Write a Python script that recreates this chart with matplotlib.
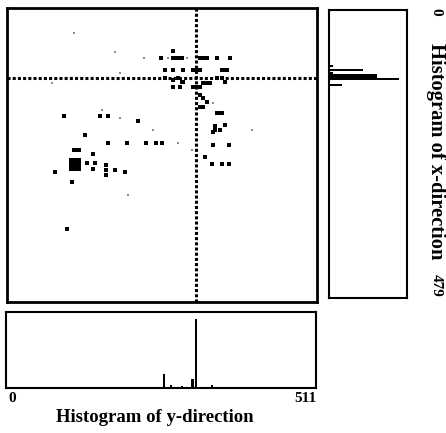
import matplotlib.pyplot as plt

# scatter points (x: 0..511, y: 0..479, y grows downward)
pts_x = [274,
         254, 274, 279, 283, 288, 318, 323, 330, 346, 367,
         260, 274, 290, 307, 313, 318, 354, 359, 363,
         260, 274, 282, 288, 290, 274, 285, 307, 313, 318, 323, 330, 335, 346, 354, 359,
         318, 323, 330, 323, 318,
         346, 351, 354,
         343, 359, 339, 351, 343,
         339, 366, 326, 338, 354, 366,
         94, 153, 166, 216, 129,
         166, 198, 229, 246, 255,
         110, 114, 118,
         105, 110, 114, 118, 105, 110, 114, 118, 105, 110, 114, 118, 105, 110, 114, 118,
         142, 132, 145, 142, 163, 163, 163, 178, 194, 79, 107, 99]
pts_y = [70,
         81, 81, 81, 81, 81, 81, 81, 81, 81, 81,
         101, 101, 101, 101, 101, 101, 101, 101, 101,
         114, 117, 114, 121, 121, 129, 129, 129, 129, 129, 122, 122, 122, 114, 114, 121,
         142, 147, 153, 161, 161,
         171, 171, 171,
         192, 191, 202, 199, 199,
         223, 223, 243, 254, 254, 254,
         176, 176, 176, 184, 207,
         220, 220, 220, 220, 220,
         231, 231, 231,
         247, 247, 247, 247, 252, 252, 252, 252, 257, 257, 257, 257, 262, 262, 262, 262,
         238, 252, 252, 262, 256, 264, 272, 264, 267, 267, 283, 360]

# faint specks
faint_x = [110, 226, 265, 296, 186, 186, 404, 199, 178, 74, 241, 157, 305, 282, 339]
faint_y = [41, 81, 81, 81, 106, 179, 199, 305, 72, 122, 199, 166, 231, 220, 155]

# crosshair location
cross_x = 311
cross_y = 114

# histogram of y-direction (bottom)
hy_pos = [260, 272, 290, 307, 309, 313, 340]
hy_val = [0.18, 0.04, 0.02, 0.12, 0.12, 0.91, 0.04]

# histogram of x-direction (right)
hx_pos = [93, 100, 105, 108, 110, 112, 115, 125]
hx_val = [0.05, 0.44, 0.05, 0.62, 0.62, 0.62, 0.9, 0.17]

serif = ['Liberation Serif', 'DejaVu Serif']

fig = plt.figure(figsize=(4.46, 4.33), dpi=100)

ax = fig.add_axes((7/446, 1-302/433, 310/446, 294/433))
ax.scatter(pts_x, pts_y, s=10, marker='s', color='black', linewidths=0)
ax.scatter(faint_x, faint_y, s=3, marker='s', color='0.55', linewidths=0)
ax.axvline(cross_x, color='black', lw=2.2, ls=(0, (1, 0.7)))
ax.axhline(cross_y, color='black', lw=2.2, ls=(0, (1, 0.7)))
ax.set_xlim(0, 511)
ax.set_ylim(479, 0)
ax.set_xticks([])
ax.set_yticks([])
for s in ax.spines.values():
    s.set_linewidth(2)

axr = fig.add_axes((329/446, 1-298/433, 78/446, 288/433))
axr.barh(hx_pos, hx_val, height=2.5, color='black')
axr.set_xlim(0, 1)
axr.set_ylim(479, 0)
axr.set_xticks([])
axr.set_yticks([])
for s in axr.spines.values():
    s.set_linewidth(1.5)

axb = fig.add_axes((6/446, 1-388/433, 310/446, 76/433))
axb.bar(hy_pos, hy_val, width=3, color='black')
axb.set_xlim(0, 511)
axb.set_ylim(0, 1)
axb.set_xticks([])
axb.set_yticks([])
for s in axb.spines.values():
    s.set_linewidth(1.5)

fig.text(8/446, 1-398/433, '0', family=serif, weight='bold', fontsize=11,
         ha='left', va='center')
fig.text(317/446, 1-398/433, '511', family=serif, weight='bold', fontsize=11,
         ha='right', va='center')
fig.text(155/446, 1-418/433, 'Histogram of y-direction', family=serif,
         weight='bold', fontsize=13.5, ha='center', va='center')

fig.text(436/446, 1-12/433, '0', family=serif, weight='bold', fontsize=11,
         rotation=-90, ha='center', va='center')
fig.text(436/446, 1-151/433, 'Histogram of x-direction', family=serif,
         weight='bold', fontsize=14.8, rotation=-90, ha='center', va='center')
fig.text(436/446, 1-285/433, '479', family=serif, weight='bold', fontsize=11,
         rotation=-90, ha='center', va='center')

fig.savefig('out.png', dpi=100)
